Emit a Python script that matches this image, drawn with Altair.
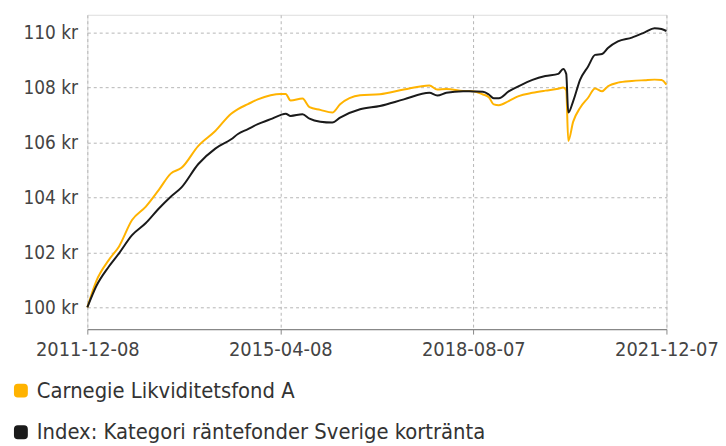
import altair as alt
import pandas as pd

# Dates read from the x positions of the traced points
dates = [
    "2011-12-08", "2012-02-02", "2012-04-22", "2012-06-25", "2012-09-15", "2012-12-11",
    "2013-03-03", "2013-05-17", "2013-07-24", "2013-11-07", "2014-02-22", "2014-06-02",
    "2014-07-15", "2014-09-16", "2014-11-17", "2015-02-06", "2015-04-08", "2015-05-12",
    "2015-06-12", "2015-08-26", "2015-10-09", "2015-12-16", "2016-03-01", "2016-04-19",
    "2016-08-23", "2016-12-26", "2017-05-26", "2017-11-03", "2017-12-23", "2018-02-18",
    "2018-06-04", "2018-08-07", "2018-10-07", "2018-11-13", "2018-12-14", "2019-01-15",
    "2019-03-18", "2019-05-20", "2019-08-15", "2019-11-04", "2020-01-25", "2020-02-25",
    "2020-03-15", "2020-03-28", "2020-04-28", "2020-06-11", "2020-07-31", "2020-09-13",
    "2020-10-27", "2020-12-03", "2021-02-04", "2021-05-03", "2021-07-23", "2021-09-23",
    "2021-11-06", "2021-12-07",
]

fund = [
    100.0, 100.95, 101.73, 102.22, 103.18, 103.67,
    104.28, 104.87, 105.08, 105.88, 106.42, 107.05,
    107.22, 107.40, 107.57, 107.72, 107.77, 107.77,
    107.53, 107.60, 107.29, 107.19, 107.09, 107.39,
    107.72, 107.76, 107.93, 108.08, 107.93, 107.95,
    107.88, 107.87, 107.75, 107.65, 107.39, 107.36,
    107.51, 107.69, 107.81, 107.89, 107.96, 108.00,
    107.90, 106.06, 106.76, 107.27, 107.63, 107.97,
    107.87, 108.05, 108.18, 108.24, 108.27, 108.29,
    108.28, 108.11,
]

index = [
    100.0, 100.77, 101.49, 101.97, 102.63, 103.07,
    103.60, 104.03, 104.37, 105.22, 105.78, 106.12,
    106.31, 106.49, 106.67, 106.85, 107.00, 107.05,
    106.97, 107.03, 106.87, 106.76, 106.73, 106.91,
    107.21, 107.33, 107.57, 107.81, 107.71, 107.81,
    107.87, 107.86, 107.85, 107.75, 107.61, 107.61,
    107.86, 108.05, 108.28, 108.42, 108.50, 108.68,
    108.50, 107.09, 107.51, 108.29, 108.77, 109.19,
    109.22, 109.44, 109.68, 109.82, 110.01, 110.16,
    110.13, 110.06,
]

series_names = ["Carnegie Likviditetsfond A", "Index: Kategori räntefonder Sverige kortränta"]
series_colors = ["#FFB300", "#1a1a1a"]
x_ticks = ["2011-12-08", "2015-04-08", "2018-08-07", "2021-12-07"]
y_ticks = [100, 102, 104, 106, 108, 110]

rows = []
for d, v in zip(dates, fund):
    rows.append({"date": d, "value": v, "series": series_names[0], "order": 0})
for d, v in zip(dates, index):
    rows.append({"date": d, "value": v, "series": series_names[1], "order": 1})
df = pd.DataFrame(rows)


def dt(s):
    y, m, d = (int(p) for p in s.split("-"))
    return alt.DateTime(year=y, month=m, date=d, utc=True)


FONT = "DejaVu Sans Condensed"
ROUNDED = ("M-0.9,-1 H0.9 A0.1,0.1 0 0 1 1,-0.9 V0.9 A0.1,0.1 0 0 1 0.9,1 "
           "H-0.9 A0.1,0.1 0 0 1 -1,0.9 V-0.9 A0.1,0.1 0 0 1 -0.9,-1 Z")

chart = alt.Chart(df).mark_line(interpolate="monotone").encode(
    x=alt.X(
        "date:T",
        scale=alt.Scale(type="utc", domain=[dt(x_ticks[0]), dt(x_ticks[-1])], nice=False),
        axis=alt.Axis(
            values=[dt(s) for s in x_ticks],
            labelExpr="utcFormat(datum.value, '%Y-%m-%d')",
            title=None,
            grid=True,
            gridDash=[3, 3],
            gridColor="#b5b5b5",
            gridWidth=1,
            domain=True,
            domainColor="#888888",
            domainWidth=1.5,
            ticks=True,
            tickColor="#888888",
            tickSize=5,
            labelPadding=6,
            labelFont=FONT,
            labelFontSize=20,
            labelColor="#444444",
            labelOverlap=False,
            labelFlush=False,
        ),
    ),
    y=alt.Y(
        "value:Q",
        scale=alt.Scale(domain=[99.21, 110.65], nice=False, zero=False),
        axis=alt.Axis(
            values=y_ticks,
            labelExpr="datum.value + ' kr'",
            title=None,
            grid=True,
            gridDash=[3, 3],
            gridColor="#b5b5b5",
            gridWidth=1,
            domain=False,
            ticks=False,
            labelPadding=10,
            labelFont=FONT,
            labelFontSize=19,
            labelColor="#444444",
        ),
    ),
    color=alt.Color(
        "series:N",
        scale=alt.Scale(domain=series_names, range=series_colors),
        legend=alt.Legend(
            title=None,
            orient="none",
            legendX=-78,
            legendY=368,
            direction="vertical",
            symbolType=ROUNDED,
            symbolSize=49,
            symbolStrokeWidth=7,
            symbolOpacity=1,
            labelFont=FONT,
            labelFontSize=22,
            labelColor="#333333",
            labelOffset=5,
            rowPadding=6,
            padding=0,
            labelLimit=600,
        ),
    ),
    order=alt.Order("order:Q"),
).properties(
    width=584,
    height=317,
    autosize=alt.AutoSizeParams(type="none"),
    padding={"left": 80, "top": 5, "right": 52, "bottom": 114},
).configure_view(stroke=None).configure_line(strokeWidth=1.9).configure(background="white")

chart.save("out.html", embed_options={"renderer": "svg", "actions": False})
